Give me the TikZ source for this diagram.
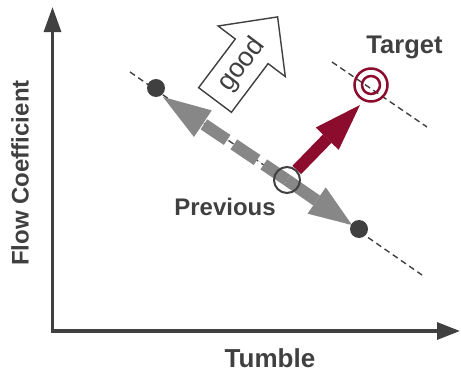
\documentclass[tikz,border=0pt]{standalone}
\usepackage{fontspec}
\setmainfont{Liberation Sans}
\usetikzlibrary{arrows.meta}
\definecolor{dk}{HTML}{404040}
\definecolor{gr}{HTML}{878787}
\definecolor{rd}{HTML}{8C0C2E}
\begin{document}
\begin{tikzpicture}[x=1pt,y=-1pt,
 axis/.style={draw=dk, line width=3.2pt, line join=miter},
 lbl/.style={text=dk, inner sep=0pt},
 guide/.style={draw=dk, line width=1.4pt, dash pattern=on 6pt off 4pt},
 fatarr/.style={line width=12pt, -{Triangle[length=#1, width=32pt, line width=0pt]}},
 dot/.style={circle, fill=dk, minimum size=18pt, inner sep=0pt},
 ring/.style={circle, draw=dk, line width=2pt, minimum size=26pt, inner sep=0pt},
 tring/.style={circle, draw=rd, line width=2.5pt, minimum size=33pt, inner sep=0pt},
 goodarrow/.style={draw=dk, line width=1.4pt, fill=white, line join=miter}
]
\useasboundingbox (0,0) rectangle (461,372);

% axes
\coordinate (ytop) at (52.5,7);
\coordinate (orig) at (52.5,331);
\coordinate (xend) at (460,331);
\draw[axis, {Triangle[length=25pt,width=17pt]}-{Triangle[length=23pt,width=17pt]}] (ytop) -- (orig) -- (xend);

\node[lbl, font=\fontsize{24}{28}\selectfont\bfseries, rotate=90] (ylab) at (20,173) {Flow Coefficient};
\node[lbl, font=\fontsize{26}{30}\selectfont\bfseries, anchor=base] (xlab) at (270,367) {Tumble};

% guide lines
\coordinate (lA) at (130,72);
\coordinate (lB) at (422,275);
\coordinate (tA) at (332,62);
\coordinate (tB) at (427,127);
\draw[guide] (lA) -- (lB);
\draw[guide] (tA) -- (tB);

% key points
\coordinate (P) at (287,180);
\coordinate (tipL) at (163,97);
\coordinate (tipR) at (352,225);
\coordinate (redtip) at (360,105);

% gray arrows
\draw[fatarr=43pt, draw=gr, fill=gr] (P) -- (tipR);
\draw[fatarr=48pt, draw=gr, fill=gr, dash pattern=on 28pt off 8pt] (P) -- (tipL);

% dots and rings
\node[dot] (dotL) at (156,88) {};
\node[dot] (dotR) at (359,229) {};
\node[ring] (prev) at (P) {};
\node[tring] (tgt) at (371,85) {};
\draw[rd, line width=2.5pt] (tgt.center) circle (9);

% red arrow
\draw[fatarr=47pt, draw=rd, fill=rd] (prev) -- (redtip);

% good arrow
\draw[goodarrow] (198.6,87.7) -- (235.3,39.0) -- (218.1,26.0) -- (277.6,16.9) -- (285.3,76.6) -- (268.1,63.6) -- (231.4,112.3) -- cycle;
\node[lbl, font=\fontsize{27}{30}\selectfont, rotate=53] (good) at (241.5,64.8) {good};

% labels
\node[lbl, font=\fontsize{24}{28}\selectfont\bfseries, anchor=base] (prevlab) at (225,215) {Previous};
\node[lbl, font=\fontsize{25.5}{30}\selectfont\bfseries, anchor=base] (tgtlab) at (404.5,53) {Target};
\end{tikzpicture}
\end{document}
